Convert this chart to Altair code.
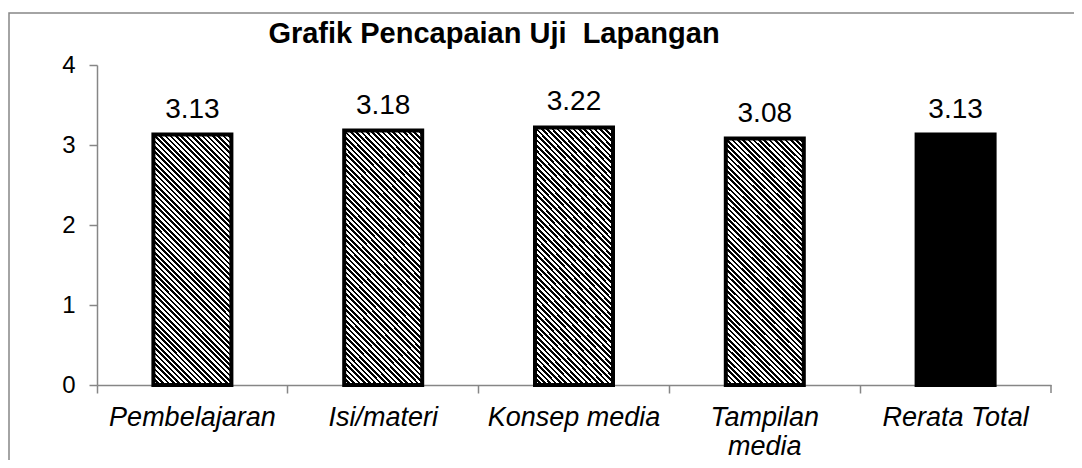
import altair as alt
import pandas as pd

# ---- data ----
categories = ["Pembelajaran", "Isi/materi", "Konsep media", "Tampilan media", "Rerata Total"]
values = [3.13, 3.18, 3.22, 3.08, 3.13]
solid = [False, False, False, False, True]
y_ticks = [0, 1, 2, 3, 4]
title_text = "Grafik Pencapaian Uji \u00a0Lapangan"

df = pd.DataFrame({"kategori": categories, "nilai": values, "solid": solid})

W, H = 954, 320
FONT = "Liberation Sans"
GRAY = "#868686"

# ---- hatch pattern approximated by a hard-stop linear gradient ----
bw, bh = 78.0, 250.0
k = (bw + bh) / (bw ** 2 + bh ** 2)
n = 62
stops = []
for i in range(n):
    a = i / n
    m = (i + 0.5) / n
    b = (i + 1) / n
    stops += [
        alt.GradientStop(offset=a, color="black"),
        alt.GradientStop(offset=m, color="black"),
        alt.GradientStop(offset=m, color="white"),
        alt.GradientStop(offset=b, color="white"),
    ]
hatch = alt.LinearGradient(gradient="linear", stops=stops,
                           x1=0, y1=1, x2=k * bw, y2=1 - k * bh)

x_enc = alt.X(
    "kategori:N", sort=categories, title=None,
    scale=alt.Scale(paddingInner=0, paddingOuter=0),
    axis=alt.Axis(
        bandPosition=0, labelAngle=0,
        labelFont=FONT, labelFontStyle="italic", labelFontSize=27,
        labelColor="black", labelPadding=11, labelLineHeight=29,
        labelExpr="datum.label == 'Tampilan media' ? ['Tampilan', 'media'] : datum.label",
        tickSize=8, tickColor=GRAY, domainColor=GRAY, tickWidth=1.5, domainWidth=1.5,
    ),
)
y_enc = alt.Y(
    "nilai:Q", title=None,
    scale=alt.Scale(domain=[0, 4], nice=False),
    axis=alt.Axis(
        values=y_ticks, grid=False, labelFont=FONT, labelFontSize=24,
        labelColor="black", labelPadding=14, tickSize=8, tickColor=GRAY,
        domainColor=GRAY, tickWidth=1.5, domainWidth=1.5,
    ),
)

base = alt.Chart(df)

hatched_bars = base.transform_filter("!datum.solid").mark_bar(
    size=78, stroke="black", strokeWidth=4, fill=hatch
).encode(x=x_enc, y=y_enc)

black_bars = base.transform_filter("datum.solid").mark_bar(
    size=78, stroke="black", strokeWidth=4, fill="black"
).encode(x=x_enc, y=y_enc)

labels = base.mark_text(
    baseline="alphabetic", dy=-17, fontSize=28, font=FONT, color="black"
).encode(x=x_enc, y=y_enc, text=alt.Text("nilai:Q", format=".2f"))

end_tick = alt.Chart(alt.Data(values=[{}])).mark_rule(
    color=GRAY, strokeWidth=1.5
).encode(x=alt.value(W), y=alt.value(H), y2=alt.value(H + 8))

frame = alt.Chart(alt.Data(values=[{}])).mark_rect(
    fill=None, stroke=GRAY, strokeWidth=1.5
).encode(x=alt.value(-88), x2=alt.value(W + 60), y=alt.value(-52), y2=alt.value(H + 120))

title = alt.Chart(alt.Data(values=[{"t": title_text}])).mark_text(
    font=FONT, fontSize=29, fontWeight="bold", color="black",
    baseline="alphabetic", align="center"
).encode(text="t:N", x=alt.value(397), y=alt.value(-22))

chart = alt.layer(frame, hatched_bars, black_bars, labels, end_tick, title).properties(
    width=W, height=H,
    autosize=alt.AutoSizeParams(type="none"),
    padding={"left": 89, "top": 57, "right": 23, "bottom": 75},
).configure_view(strokeWidth=0)

chart.save("out.html", embed_options={"renderer": "svg", "actions": False})
